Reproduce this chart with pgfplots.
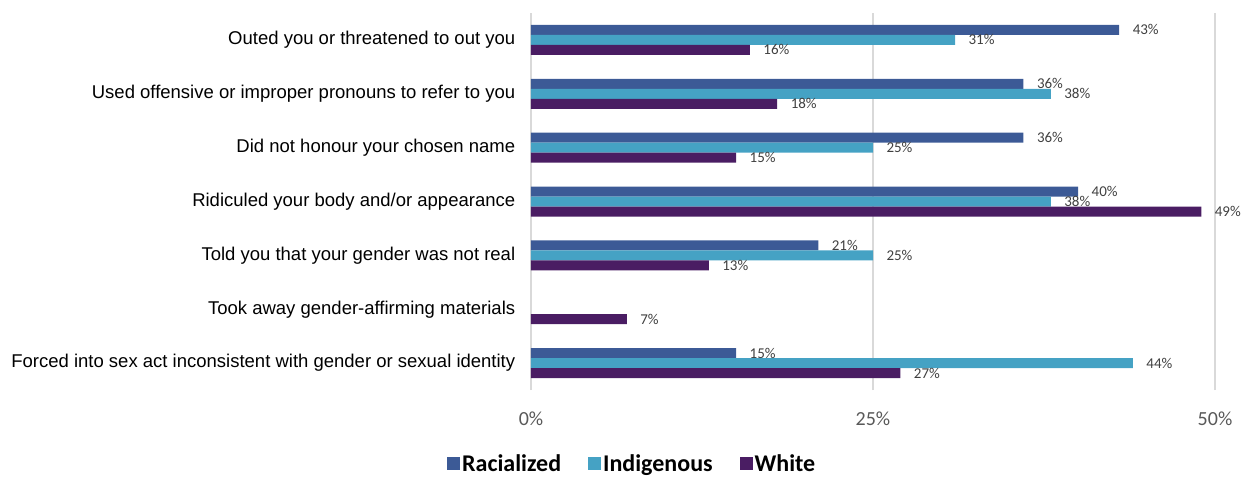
\documentclass[border=0pt]{standalone}
\usepackage{fontspec}
\setmainfont{Liberation Sans}
\newfontfamily\carlito{Carlito}
\usepackage{pgfplots}
\pgfplotsset{compat=1.18}
\definecolor{cRac}{RGB}{60,90,150}
\definecolor{cInd}{RGB}{69,162,196}
\definecolor{cWhi}{RGB}{74,29,99}
\definecolor{gridgray}{RGB}{217,217,217}
\definecolor{tickgray}{RGB}{89,89,89}
\definecolor{labgray}{RGB}{64,64,64}
\begin{document}
\begin{tikzpicture}
\useasboundingbox (0,0) rectangle (1250pt,477pt);
\begin{axis}[
 at={(531pt,87pt)}, anchor=south west, scale only axis, width=684pt, height=377pt,
 xbar, bar width=10pt,
 xmin=0, xmax=50, ymin=-0.5, ymax=6.5,
 xtick={0,25,50}, xticklabels={0\%,25\%,50\%},
 ytick={0,...,6},
 yticklabels={Forced into sex act inconsistent with gender or sexual identity,
   Took away gender-affirming materials,
   Told you that your gender was not real,
   Ridiculed your body and/or appearance,
   Did not honour your chosen name,
   Used offensive or improper pronouns to refer to you,
   Outed you or threatened to out you},
 xmajorgrids, grid style={line width=1.2pt, color=gridgray},
 axis line style={draw=none}, major tick style={draw=none},
 xticklabel style={font=\carlito\fontsize{20}{24}\selectfont, text=tickgray, yshift=-18pt},
 yticklabel style={font=\fontsize{18.5}{22}\selectfont, text=black, xshift=-8pt},
 nodes near coords={\pgfmathprintnumber{\pgfplotspointmeta}\%},
 every node near coord/.append style={font=\carlito\fontsize{15}{18}\selectfont, text=labgray, anchor=west, xshift=10pt},
 /pgf/number format/assume math mode=true,
 clip=false,
 legend columns=3,
 legend style={draw=none, at={(0.148,-0.195)}, anchor=center,
   font=\carlito\bfseries\fontsize{24}{28}\selectfont,
   /tikz/every even column/.append style={column sep=25pt}},
 legend image code/.code={\fill[#1] (-3pt,-6.5pt) rectangle (10pt,6.5pt);},
]
\addplot[fill=cRac, draw=none, bar shift=10pt] coordinates {(15,0) (21,2) (40,3) (36,4) (36,5) (43,6)};
\addlegendentry{Racialized}
\addplot[fill=cInd, draw=none, bar shift=0pt] coordinates {(44,0) (25,2) (38,3) (25,4) (38,5) (31,6)};
\addlegendentry{Indigenous}
\addplot[fill=cWhi, draw=none, bar shift=-10pt] coordinates {(27,0) (7,1) (13,2) (49,3) (15,4) (18,5) (16,6)};
\addlegendentry{White}
\end{axis}
\end{tikzpicture}
\end{document}
